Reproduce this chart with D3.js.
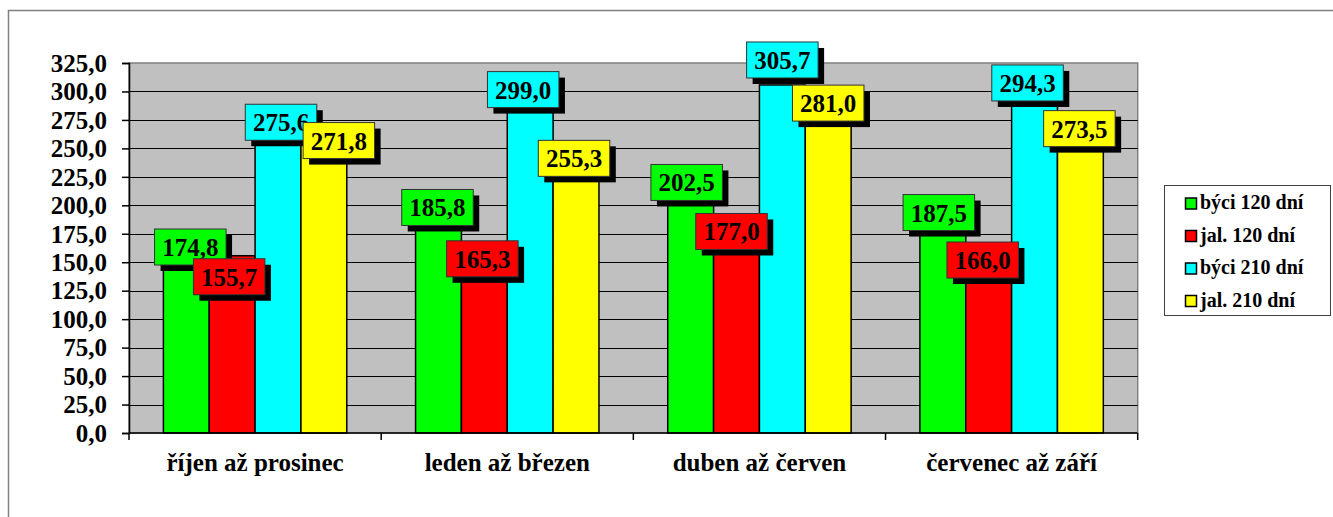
<!DOCTYPE html>
<html>
<head>
<meta charset="utf-8">
<script src="https://cdn.jsdelivr.net/npm/d3@7"></script>
<style>
  html, body { margin: 0; padding: 0; background: #fff; }
  svg { display: block; }
  text { font-family: "Liberation Serif", "Times New Roman", serif; font-weight: bold; fill: #000; }
</style>
</head>
<body>
<svg id="chart" width="1333" height="517"></svg>
<script>
'use strict';

var categories = ['říjen až prosinec', 'leden až březen', 'duben až červen', 'červenec až září'];
var series = ['býci 120 dní', 'jal. 120 dní', 'býci 210 dní', 'jal. 210 dní'];
var colors = ['#00ff00', '#ff0000', '#00ffff', '#ffff00'];

// values per series, one entry per category
var byci120 = [174.8, 185.8, 202.5, 187.5];
var jal120 = [155.7, 165.3, 177.0, 166.0];
var byci210 = [275.6, 299.0, 305.7, 294.3];
var jal210 = [271.8, 255.3, 281.0, 273.5];
var values = [byci120, jal120, byci210, jal210];

var yTicks = [0, 25, 50, 75, 100, 125, 150, 175, 200, 225, 250, 275, 300, 325];

// labels were dragged by hand in the original, these are the nudges (px) from the bar top
var labelDx = [[4, -1, -4, -4], [-3, -2, -5, -6], [3, -7, 0, -7], [15, -2, 0, -1]];
var labelDy = [[13, -14, -20, -7], [21, 14, 0, 16], [3, -3, -25, -15], [17, 16, -10, 7]];

var svg = d3.select('#chart');
var plotL = 129, plotR = 1137.7, plotT = 63, plotB = 433;

var fmt = function(d) { return d3.format('.1f')(d).replace('.', ','); };

var x0 = d3.scaleBand().domain(categories).range([plotL, plotR]);
var x1 = d3.scaleBand().domain(series).range([0, x0.bandwidth()]).paddingOuter(0.75);
var y = d3.scaleLinear().domain([0, 325]).range([plotB, plotT]);

// outer chart border
svg.append('rect')
  .attr('x', 8.5).attr('y', 10.5).attr('width', 1340).attr('height', 520)
  .attr('fill', 'none').attr('stroke', '#808080').attr('stroke-width', 1.5);

// plot area
svg.append('rect')
  .attr('x', plotL).attr('y', plotT).attr('width', plotR - plotL).attr('height', plotB - plotT)
  .attr('fill', '#c0c0c0').attr('stroke', '#808080').attr('stroke-width', 1.5);

svg.append('g')
  .selectAll('line')
  .data(yTicks.filter(function(d) { return d > 0 && d < 325; }))
  .enter().append('line')
    .attr('x1', plotL).attr('x2', plotR)
    .attr('y1', function(d) { return Math.round(y(d)) + 0.5; })
    .attr('y2', function(d) { return Math.round(y(d)) + 0.5; })
    .attr('stroke', '#000').attr('stroke-width', 1);

// y axis
var yAxis = svg.append('g')
  .attr('transform', 'translate(' + plotL + ',0)')
  .call(d3.axisLeft(y).tickValues(yTicks).tickFormat(fmt).tickSize(7).tickPadding(15));
yAxis.select('.domain').attr('stroke', '#000').attr('stroke-width', 1.5);
yAxis.selectAll('.tick line').attr('stroke', '#000').attr('stroke-width', 1.5);
yAxis.selectAll('.tick text')
  .attr('font-size', 25).attr('font-family', '"Liberation Serif", serif').attr('font-weight', 'bold')
  .attr('dy', '0.33em');

// bars
var groups = svg.append('g').selectAll('g')
  .data(categories)
  .enter().append('g')
    .attr('transform', function(d) { return 'translate(' + x0(d) + ',0)'; });

groups.selectAll('rect')
  .data(function(c, ci) { return series.map(function(s, si) { return {s: s, si: si, v: values[si][ci]}; }); })
  .enter().append('rect')
    .attr('x', function(d) { return x1(d.s); })
    .attr('y', function(d) { return y(d.v); })
    .attr('width', x1.bandwidth())
    .attr('height', function(d) { return y(0) - y(d.v); })
    .attr('fill', function(d) { return colors[d.si]; })
    .attr('stroke', '#000').attr('stroke-width', 1.5);

// x axis
svg.append('line')
  .attr('x1', plotL).attr('x2', plotR).attr('y1', plotB).attr('y2', plotB)
  .attr('stroke', '#000').attr('stroke-width', 1.5);
svg.append('g').selectAll('line')
  .data(d3.range(categories.length + 1))
  .enter().append('line')
    .attr('x1', function(i) { return plotL + i * x0.bandwidth(); })
    .attr('x2', function(i) { return plotL + i * x0.bandwidth(); })
    .attr('y1', plotB).attr('y2', plotB + 7)
    .attr('stroke', '#000').attr('stroke-width', 1.5);
svg.append('g').selectAll('text')
  .data(categories)
  .enter().append('text')
    .attr('x', function(d) { return x0(d) + x0.bandwidth() / 2; })
    .attr('y', 471)
    .attr('text-anchor', 'middle')
    .attr('font-size', 25)
    .text(function(d) { return d; });

// data labels, drawn on top of all bars
var boxW = 71.5, boxH = 36, sh = 6;
var labels = svg.append('g').selectAll('g')
  .data(d3.merge(categories.map(function(c, ci) {
    return series.map(function(s, si) { return {c: c, s: s, ci: ci, si: si, v: values[si][ci]}; });
  })))
  .enter().append('g')
    .attr('transform', function(d) {
      var cx = x0(d.c) + x1(d.s) + x1.bandwidth() / 2 + labelDx[d.si][d.ci];
      var cy = y(d.v) + labelDy[d.si][d.ci];
      return 'translate(' + cx + ',' + cy + ')';
    });
labels.append('rect')
  .attr('x', -boxW / 2 + sh).attr('y', -boxH / 2 + sh)
  .attr('width', boxW).attr('height', boxH).attr('fill', '#000');
labels.append('rect')
  .attr('x', -boxW / 2).attr('y', -boxH / 2)
  .attr('width', boxW).attr('height', boxH)
  .attr('fill', function(d) { return colors[d.si]; })
  .attr('stroke', '#333').attr('stroke-width', 1);
labels.append('text')
  .attr('text-anchor', 'middle').attr('y', 9)
  .attr('font-size', 25)
  .text(function(d) { return fmt(d.v); });

// legend
var legend = svg.append('g');
legend.append('rect')
  .attr('x', 1164.5).attr('y', 185.5).attr('width', 166).attr('height', 130)
  .attr('fill', '#fff').attr('stroke', '#404040').attr('stroke-width', 1);
var item = legend.selectAll('g')
  .data(series)
  .enter().append('g')
    .attr('transform', function(d, i) { return 'translate(1185,' + (209 + i * 32.5) + ')'; });
item.append('rect')
  .attr('x', 0.5).attr('y', -11).attr('width', 11).attr('height', 11)
  .attr('fill', function(d, i) { return colors[i]; })
  .attr('stroke', '#000').attr('stroke-width', 1.5);
item.append('text')
  .attr('x', 15).attr('y', 0)
  .attr('font-size', 20)
  .text(function(d) { return d; });
</script>
</body>
</html>
